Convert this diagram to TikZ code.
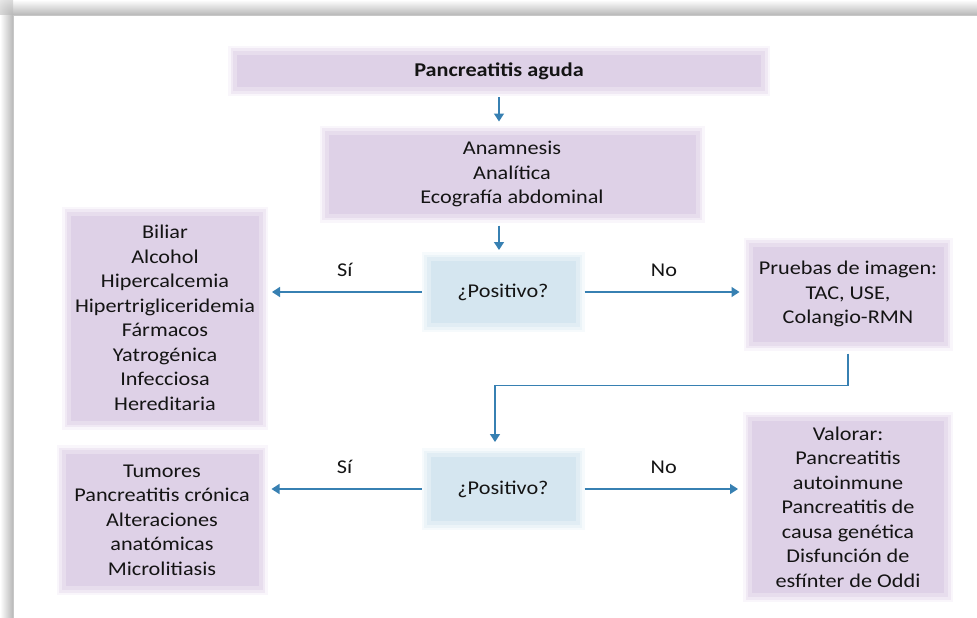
\documentclass[tikz,border=0pt]{standalone}
\usepackage{fontspec}
\setmainfont{Carlito}[FakeStretch=1.14]
\usetikzlibrary{positioning, calc, arrows.meta}

\definecolor{boxfill}{RGB}{222,209,231}
\definecolor{boxmid}{RGB}{231,221,237}
\definecolor{boxlight}{RGB}{240,233,244}
\definecolor{boxfaint}{RGB}{249,246,251}
\definecolor{decfill}{RGB}{213,230,240}
\definecolor{decmid}{RGB}{225,237,244}
\definecolor{declight}{RGB}{236,244,248}
\definecolor{decfaint}{RGB}{246,250,252}
\definecolor{arrowblue}{RGB}{55,128,178}
\definecolor{textgray}{RGB}{20,20,20}

\begin{document}
\begin{tikzpicture}[x=1pt, y=-1pt,
    txt/.style={text=textgray, font=\fontsize{19.5}{24.5}\selectfont},
    box/.style={txt, fill=boxfill, draw=boxmid, line width=4pt,
        preaction={draw=boxfaint, line width=14pt},
        preaction={draw=boxlight, line width=9pt},
        inner sep=0pt, outer sep=7pt, align=center},
    decision/.style={txt, fill=decfill, draw=decmid, line width=4pt,
        preaction={draw=decfaint, line width=14pt},
        preaction={draw=declight, line width=9pt},
        inner sep=0pt, outer sep=7pt, align=center},
    flecha/.style={arrowblue, line width=1.3pt, -{Triangle[length=8pt, width=10pt]}},
    rama/.style={txt, midway, yshift=22pt}]
    \useasboundingbox (0,0) rectangle (977,618);

    % page with its shadow
    \fill[white] (0,0) rectangle (977,618);
    \shade[top color=white, bottom color=black!28] (13,0) rectangle (977,15);
    \shade[left color=white, right color=black!28] (0,15) rectangle (13,618);
    \begin{scope}
        \clip (0,0) rectangle (13,15);
        \shade[inner color=black!28, outer color=white] (13,15) circle (30);
    \end{scope}
    \draw[black!22, line width=0.8pt] (13,618) -- (13,15) -- (977,15);

    % boxes
    \node[box, minimum width=528, minimum height=36,
          font=\fontsize{19.5}{24.5}\selectfont\bfseries] (aguda) at (499,71) {Pancreatitis aguda};
    \node[box, minimum width=371, minimum height=83] (ana) at (512,174)
        {Anamnesis\\Analítica\\Ecografía abdominal};
    \node[decision, minimum width=149, minimum height=66] (pos1) at (503,292) {¿Positivo?};
    \node[box, minimum width=192, minimum height=209] (causas) at (165,318)
        {Biliar\\Alcohol\\Hipercalcemia\\Hipertrigliceridemia\\Fármacos\\Yatrogénica\\Infecciosa\\Hereditaria};
    \node[box, minimum width=195, minimum height=99] (imagen) at (848,294)
        {Pruebas de imagen:\\TAC, USE,\\Colangio-RMN};
    \node[decision, minimum width=149, minimum height=68] (pos2) at (503,489) {¿Positivo?};
    \node[box, minimum width=197, minimum height=136] (otras) at (162,520)
        {Tumores\\Pancreatitis crónica\\Alteraciones\\anatómicas\\Microlitiasis};
    \node[box, minimum width=196, minimum height=176] (valorar) at (848,507)
        {Valorar:\\Pancreatitis\\autoinmune\\Pancreatitis de\\causa genética\\Disfunción de\\esfínter de Oddi};

    % connectors
    \draw[flecha, shorten <=1pt, shorten >=4pt] (aguda.south) -- (aguda.south |- ana.north);
    \draw[flecha, shorten <=3pt, shorten >=2pt] (aguda.south |- ana.south) -- (aguda.south |- pos1.north);
    \draw[flecha, shorten >=4pt] (pos1.west) -- (pos1.west -| causas.east) node[rama] {Sí};
    \draw[flecha, shorten >=4pt] (pos1.east) -- (pos1.east -| imagen.west) node[rama] {No};
    \draw[flecha, shorten <=3pt, shorten >=6pt] (imagen.south) -- ++(0,35) -| ([xshift=-8pt]pos2.north);
    \draw[flecha, shorten >=4pt] (pos2.west) -- (pos2.west -| otras.east) node[rama] {Sí};
    \draw[flecha, shorten >=5pt] (pos2.east) -- (pos2.east -| valorar.west) node[rama] {No};
\end{tikzpicture}
\end{document}
